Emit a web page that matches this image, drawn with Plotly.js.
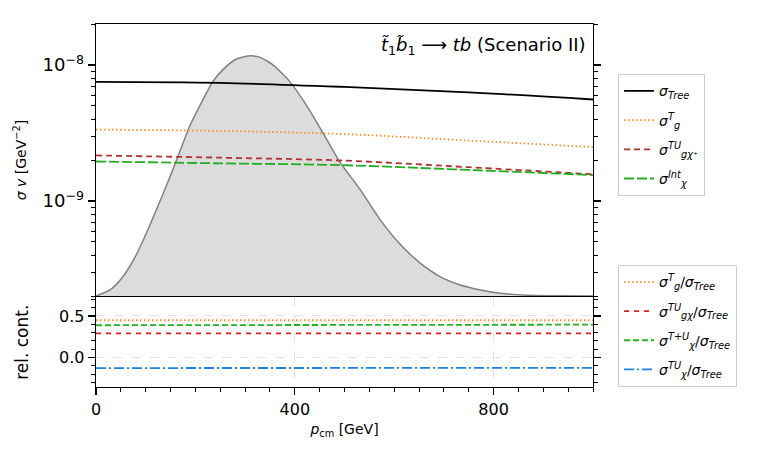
<!DOCTYPE html>
<html><head><meta charset="utf-8">
<script src="https://cdn.plot.ly/plotly-3.0.1.min.js"></script>
<style>html,body{margin:0;padding:0;background:#fff}#c{width:758px;height:453px}</style>
</head><body><div id="c"></div>
<script>
// momentum grid (GeV) for cross sections
const pCm = [0, 250, 500, 750, 1000];
const sigTree = [7.5e-9, 7.37e-9, 6.89e-9, 6.29e-9, 5.57e-9];
const sigGT = [3.35e-9, 3.27e-9, 3.10e-9, 2.78e-9, 2.49e-9];
const sigGChiTU = [2.16e-9, 2.08e-9, 1.98e-9, 1.77e-9, 1.57e-9];
const sigChiInt = [1.95e-9, 1.89e-9, 1.83e-9, 1.69e-9, 1.55e-9];

// relative contributions
const pRel = [0, 500, 1000];
const relGT = [0.448, 0.448, 0.448];
const relGChiTU = [0.291, 0.291, 0.290];
const relChiTpU = [0.388, 0.391, 0.395];
const relChiTU = [-0.127, -0.126, -0.125];

// thermal momentum distribution (arbitrary units)
const pDist = [0, 30, 54, 81, 107, 134, 161, 188, 215, 235, 255, 279, 306, 329, 356, 390, 423, 457, 490, 532, 572, 613, 653, 693, 733, 774, 814, 868, 940, 1000];
const fDist = [0, 0.028, 0.080, 0.171, 0.289, 0.421, 0.560, 0.705, 0.817, 0.893, 0.942, 0.983, 1.0, 0.995, 0.963, 0.893, 0.796, 0.678, 0.560, 0.442, 0.317, 0.213, 0.136, 0.080, 0.046, 0.025, 0.011, 0.003, 0.001, 0];

// tick labels
const logMajor = [1e-9, 1e-8];
const logMajorText = ['10<sup>−9</sup>', '10<sup>−8</sup>'];
const logMinor = [2e-10, 3e-10, 4e-10, 5e-10, 6e-10, 7e-10, 8e-10, 9e-10, 2e-9, 3e-9, 4e-9, 5e-9, 6e-9, 7e-9, 8e-9, 9e-9, 2e-8];

const FONT = 'DejaVu Sans';
const traces = [
  {x: pDist, y: fDist, xaxis: 'x', yaxis: 'y', type: 'scatter', mode: 'lines', fill: 'tozeroy',
   fillcolor: '#dcdcdc', line: {color: '#808080', width: 1.5, shape: 'spline', smoothing: 0.6}, showlegend: false, hoverinfo: 'skip'},
  {x: [500], y: [1e-9], xaxis: 'x', yaxis: 'y4', mode: 'markers', marker: {opacity: 0}, showlegend: false, hoverinfo: 'skip'},
  {x: pCm, y: sigTree, xaxis: 'x', yaxis: 'y3', mode: 'lines', line: {color: 'black', width: 1.8, shape: 'spline'},
   name: '<i>σ</i><sub><i>Tree</i></sub>', legend: 'legend', legendgroup: 'a1'},
  {x: pCm, y: sigGT, xaxis: 'x', yaxis: 'y3', mode: 'lines', line: {color: '#ff8c1a', width: 1.8, dash: '1.5px,2.5px', shape: 'spline'},
   name: '<i>σ</i><sup><i>T</i></sup><sub><i>g</i></sub>', legend: 'legend', legendgroup: 'a2'},
  {x: pCm, y: sigGChiTU, xaxis: 'x', yaxis: 'y3', mode: 'lines', line: {color: '#b03030', width: 1.8, dash: '6px,4px', shape: 'spline'},
   name: '<i>σ</i><sup><i>TU</i></sup><sub><i>gχ</i>⁺</sub>', legend: 'legend', legendgroup: 'a3'},
  {x: pCm, y: sigChiInt, xaxis: 'x', yaxis: 'y3', mode: 'lines', line: {color: '#1fae1f', width: 1.8, dash: '10px,3px', shape: 'spline'},
   name: '<i>σ</i><sup><i>Int</i></sup><sub><i>χ</i></sub>', legend: 'legend', legendgroup: 'a4'},
  {x: pRel, y: relGT, xaxis: 'x2', yaxis: 'y2', mode: 'lines', line: {color: '#ff8c1a', width: 1.8, dash: '1.5px,2.5px'},
   name: '<i>σ</i><sup><i>T</i></sup><sub><i>g</i></sub>/<i>σ</i><sub><i>Tree</i></sub>', legend: 'legend2', legendgroup: 'b1'},
  {x: pRel, y: relGChiTU, xaxis: 'x2', yaxis: 'y2', mode: 'lines', line: {color: '#e02020', width: 1.8, dash: '5px,5px'},
   name: '<i>σ</i><sup><i>TU</i></sup><sub><i>gχ</i></sub>/<i>σ</i><sub><i>Tree</i></sub>', legend: 'legend2', legendgroup: 'b2'},
  {x: pRel, y: relChiTpU, xaxis: 'x2', yaxis: 'y2', mode: 'lines', line: {color: '#1fb51f', width: 1.8, dash: '6px,3px'},
   name: '<i>σ</i><sup><i>T+U</i></sup><sub><i>χ</i></sub>/<i>σ</i><sub><i>Tree</i></sub>', legend: 'legend2', legendgroup: 'b3'},
  {x: pRel, y: relChiTU, xaxis: 'x2', yaxis: 'y2', mode: 'lines', line: {color: '#1e7fe6', width: 1.8, dash: '10px,3px,2px,3px'},
   name: '<i>σ</i><sup><i>TU</i></sup><sub><i>χ</i></sub>/<i>σ</i><sub><i>Tree</i></sub>', legend: 'legend2', legendgroup: 'b4'}
];

const gridStyle = {showgrid: true, gridcolor: '#e3e3e3', griddash: 'dash', gridwidth: 1};
const legendBase = {x: 1.05, xanchor: 'left', yanchor: 'top', bgcolor: 'white', bordercolor: '#cccccc', borderwidth: 1.2,
  font: {family: FONT, size: 14, color: 'black'}, itemwidth: 30};
const logRange = [Math.log10(2e-10), Math.log10(2e-8)];

const layout = {
  width: 758, height: 453,
  margin: {l: 96, r: 165, t: 24, b: 66},
  paper_bgcolor: 'white', plot_bgcolor: 'white',
  font: {family: FONT, color: 'black'},
  xaxis: {domain: [0, 1], anchor: 'y', range: [0, 1000], showticklabels: false, ticks: '', showgrid: false,
    showline: true, mirror: true, linecolor: 'black', linewidth: 1.3, zeroline: false},
  yaxis: {domain: [0.2507, 1], anchor: 'x', range: [0, 1.133], showticklabels: false, ticks: '', showgrid: false, zeroline: false,
    showline: true, mirror: true, linecolor: 'black', linewidth: 1.3},
  yaxis3: {overlaying: 'y', anchor: 'x', side: 'left', type: 'log', range: logRange,
    tickmode: 'array', tickvals: logMajor, ticktext: logMajorText, ticks: 'outside', ticklen: 7, tickwidth: 1.3, tickcolor: 'black',
    mirror: 'ticks', showline: true, linecolor: 'black', linewidth: 1.3, showgrid: false, zeroline: false,
    tickfont: {family: FONT, size: 18},
    title: {text: '<i>σ v</i> [GeV<sup>−2</sup>]', font: {family: FONT, size: 14}, standoff: 12}},
  yaxis4: {overlaying: 'y', anchor: 'x', side: 'left', type: 'log', range: logRange, tickmode: 'array', tickvals: logMinor,
    showticklabels: false, ticks: 'outside', ticklen: 4, tickwidth: 1, tickcolor: 'black', mirror: 'ticks', showgrid: false, zeroline: false},
  xaxis2: Object.assign({domain: [0, 1], anchor: 'y2', range: [0, 1000], tickmode: 'linear', tick0: 0, dtick: 400,
    ticks: 'outside', ticklen: 7, tickwidth: 1.3, tickcolor: 'black',
    minor: {ticks: 'outside', dtick: 50, tick0: 0, ticklen: 4, tickwidth: 1, tickcolor: 'black', showgrid: false},
    showline: true, mirror: true, linecolor: 'black', linewidth: 1.3, zeroline: false,
    tickfont: {family: FONT, size: 16},
    title: {text: '<i>p</i><sub>cm</sub> [GeV]', font: {family: FONT, size: 14}, standoff: 6}}, gridStyle),
  yaxis2: Object.assign({domain: [0, 0.2466], anchor: 'x2', range: [-0.355, 0.722], tickmode: 'linear', tick0: 0, dtick: 0.5, tickformat: '.1f',
    ticks: 'outside', ticklen: 7, tickwidth: 1.3, tickcolor: 'black',
    minor: {ticks: 'outside', dtick: 0.1, tick0: 0, ticklen: 4, tickwidth: 1, tickcolor: 'black', showgrid: false},
    mirror: 'ticks', showline: true, linecolor: 'black', linewidth: 1.3, zeroline: false,
    tickfont: {family: FONT, size: 16},
    title: {text: 'rel. cont.', font: {family: FONT, size: 17}, standoff: 26}}, gridStyle),
  legend: Object.assign({y: 0.862, tracegroupgap: 8}, legendBase),
  legend2: Object.assign({y: 0.336, tracegroupgap: 8}, legendBase),
  annotations: [{xref: 'paper', yref: 'paper', x: 0.99, y: 0.978, xanchor: 'right', yanchor: 'top', showarrow: false,
    text: '<i>t̃</i><sub>1</sub><i>b̃</i><sub>1</sub> ⟶ <i>tb</i> (Scenario II)', font: {family: FONT, size: 18, color: 'black'}}]
};

Plotly.newPlot('c', traces, layout, {displayModeBar: false, staticPlot: true});
</script></body></html>
